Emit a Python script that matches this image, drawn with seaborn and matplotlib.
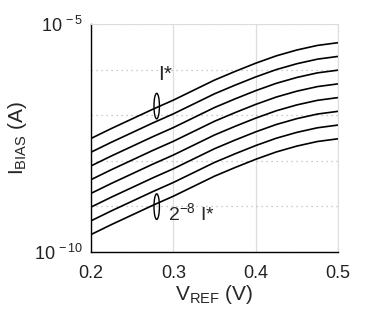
import numpy as np
import pandas as pd
import seaborn as sns
import matplotlib.pyplot as plt
from matplotlib.patches import Ellipse

# reference voltage (V)
v_ref = [0.200, 0.225, 0.250, 0.275, 0.300, 0.325, 0.350,
         0.375, 0.400, 0.425, 0.450, 0.475, 0.500]
# top curve I* (A)
i_top = [3.09e-8, 5.13e-8, 8.32e-8, 1.35e-7, 2.14e-7, 3.55e-7, 5.89e-7,
         9.12e-7, 1.38e-6, 2.00e-6, 2.69e-6, 3.39e-6, 3.89e-6]
# binary-weighted scale of each curve
scales = [1, 1/2, 1/4, 1/8, 1/16, 1/32, 1/64, 1/128]

rows = []
for k, s in enumerate(scales):
    for v, i in zip(v_ref, i_top):
        rows.append({"v": v, "i": i * s, "curve": k})
df = pd.DataFrame(rows)

sns.set_style("white")
plt.rcParams['font.family'] = ['Liberation Sans', 'DejaVu Sans']
plt.rcParams['mathtext.fontset'] = 'custom'
plt.rcParams['mathtext.rm'] = 'Liberation Sans'
plt.rcParams['mathtext.it'] = 'Liberation Sans'

fig = plt.figure(figsize=(3.74, 3.15), dpi=100)
ax = fig.add_axes([91/374, 63/315, 247/374, 228/315])

sns.lineplot(data=df, x="v", y="i", hue="curve", units="curve", estimator=None,
             palette=["black"] * len(scales), legend=False, lw=1.2, ax=ax)

ax.set_yscale("log")
ax.set_xlim(0.2, 0.5)
ax.set_ylim(1e-10, 1e-5)
ax.set_xticks([0.2, 0.3, 0.4, 0.5])
ax.set_xticklabels(["0.2", "0.3", "0.4", "0.5"])
ax.set_yticks([1e-10, 1e-9, 1e-8, 1e-7, 1e-6, 1e-5])
ax.set_yticklabels([r"$\mathregular{10^{\,-10}}$", "", "", "", "", r"$\mathregular{10^{\,-5}}$"])
ax.yaxis.set_minor_locator(plt.NullLocator())

ax.xaxis.grid(True, color="#dddddd", lw=0.9, ls="-")
ax.yaxis.grid(True, color="#bbbbbb", lw=0.9, ls=(0, (1, 3)))
ax.set_axisbelow(True)
ax.tick_params(direction="in", length=3, labelsize=13, colors="#222222")
ax.tick_params(axis="y", pad=6)
ax.tick_params(axis="x", pad=9)

for side in ["top", "right"]:
    ax.spines[side].set_color("#dddddd")
for side in ["left", "bottom"]:
    ax.spines[side].set_color("black")
    ax.spines[side].set_linewidth(1.0)

ax.set_xlabel(r"V$_{\mathregular{REF}}$ (V)", fontsize=15, labelpad=1)
ax.set_ylabel(r"I$_{\mathregular{BIAS}}$ (A)", fontsize=15, labelpad=3)

# annotation ellipses and labels
for yc in [0.640, 0.199]:
    ax.add_patch(Ellipse((0.266, yc), 0.022, 0.112, transform=ax.transAxes,
                         fill=False, ec="black", lw=1.0))
ax.text(0.272, 0.78, "I*", transform=ax.transAxes, fontsize=15, va="center")
ax.text(0.31, 0.17, r"2$^{\mathregular{-8}}$ I*", transform=ax.transAxes,
        fontsize=14, va="center")

fig.savefig("out.png", dpi=100)
